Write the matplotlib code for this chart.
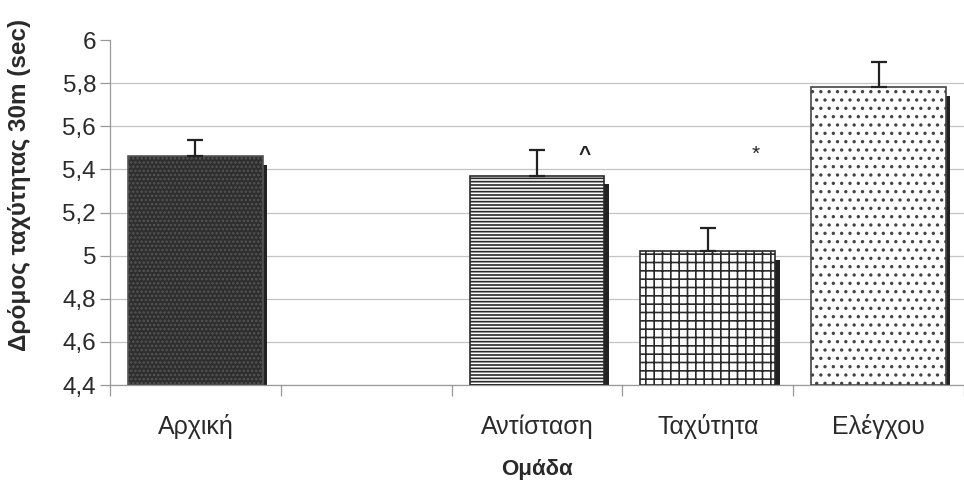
import numpy as np
import matplotlib
matplotlib.use("Agg")
import matplotlib.pyplot as plt
from matplotlib.ticker import FuncFormatter, FixedLocator

plt.rcParams['font.family'] = ['Liberation Sans', 'DejaVu Sans']
plt.rcParams['hatch.linewidth'] = 1.2

categories = ['Αρχική', '', 'Αντίσταση', 'Ταχύτητα', 'Ελέγχου']
means = [5.46, np.nan, 5.37, 5.02, 5.78]
errors = [0.075, np.nan, 0.12, 0.11, 0.12]
marks = ['', '', '^', '*', '']
mark_y = [np.nan, np.nan, 5.47, 5.47, np.nan]

faces = ['#2e2e2e', 'white', 'white', 'white', 'white']
hatches = ['....', '', '-----', '++', '..']
hatch_colors = ['#555555', 'k', '#2a2a2a', '#2a2a2a', '#444444']

fig = plt.figure(figsize=(9.64, 4.83), dpi=100)
ax = fig.add_axes([110/964, 1-385/483, 1-110/964, (385-40)/483])

x = np.arange(len(categories))
width = 0.79
shadow = 0.025
for i, (m, e) in enumerate(zip(means, errors)):
    if np.isnan(m):
        continue
    # shadow
    ax.bar(x[i] + shadow, m - 4.4 - 0.04, width=width, bottom=4.4, color='#222222',
           zorder=2, linewidth=0)
    ax.bar(x[i], m - 4.4, width=width, bottom=4.4, facecolor=faces[i],
           edgecolor=hatch_colors[i], hatch=hatches[i], linewidth=1.2, zorder=3)
    ax.errorbar(x[i], m, yerr=[[0], [e]], fmt='none', ecolor='#222222',
                elinewidth=1.6, capsize=6, capthick=1.6, zorder=4)
    if marks[i]:
        ax.text(x[i] + 0.28, mark_y[i], marks[i], ha='center', va='center',
                fontsize=15, fontweight='bold' if marks[i] == '^' else 'normal',
                color='#222222')

ax.set_ylim(4.4, 6.0)
ax.set_xlim(-0.5, len(categories) - 0.5)
yt = np.round(np.arange(4.4, 6.01, 0.2), 1)
ax.set_yticks(yt)
ax.yaxis.set_major_formatter(FuncFormatter(lambda v, p: ('%g' % round(v, 1)).replace('.', ',')))
ax.yaxis.grid(True, color='#c4c4c4', linewidth=0.9, zorder=0)
ax.set_axisbelow(True)
ax.get_ygridlines()[-1].set_visible(False)

ax.set_xticks(x)
ax.set_xticklabels(categories, fontsize=18, color='#2a2a2a')
ax.xaxis.set_minor_locator(FixedLocator(np.arange(-0.5, len(categories), 1.0)))
ax.tick_params(axis='x', which='major', length=0, pad=21)
ax.tick_params(axis='x', which='minor', length=8, width=0.9, color='#999999', direction='out')
ax.tick_params(axis='y', length=7, width=0.9, color='#999999', direction='out',
               labelsize=17.5, labelcolor='#2a2a2a', pad=3)

for s in ['top', 'right']:
    ax.spines[s].set_visible(False)
for s in ['left', 'bottom']:
    ax.spines[s].set_color('#999999')
    ax.spines[s].set_linewidth(0.9)

ax.set_xlabel('Ομάδα', fontsize=16, fontweight='bold', color='#2a2a2a')
ax.set_ylabel('Δρόμος ταχύτητας 30m (sec)', fontsize=17.5, fontweight='bold',
              color='#2a2a2a')
ax.yaxis.set_label_coords(-0.092, 0.58)
ax.xaxis.set_label_coords(0.5, -0.215)

fig.savefig('out.png', dpi=100)
